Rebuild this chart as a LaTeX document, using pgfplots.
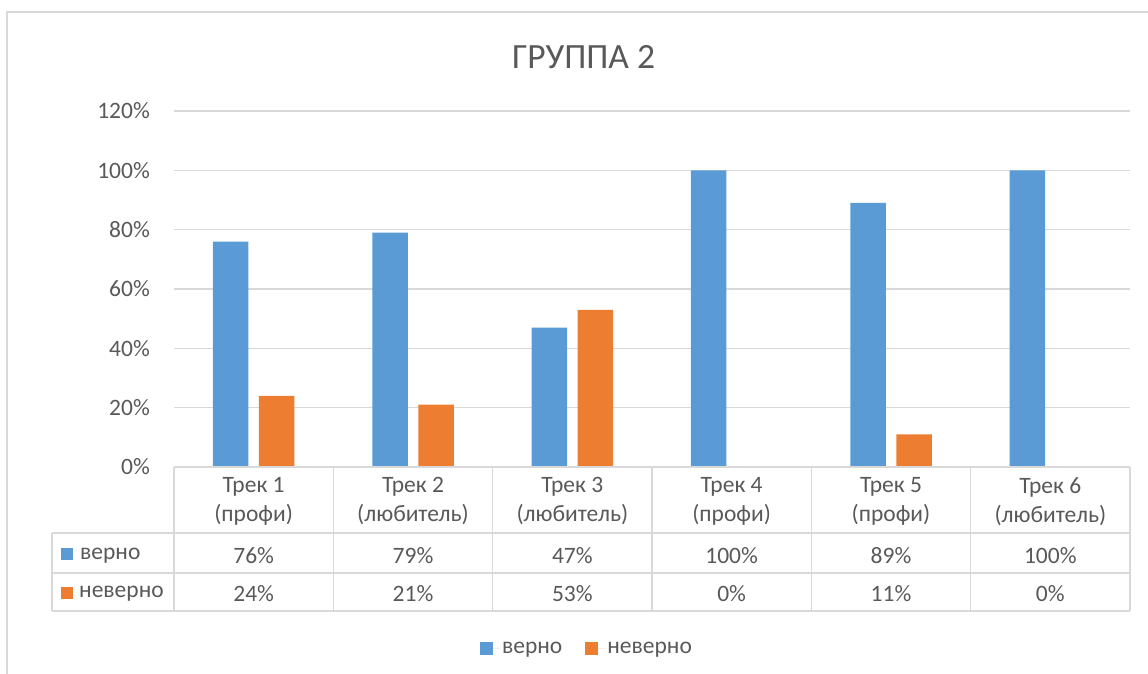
\documentclass[border=0pt]{standalone}
\usepackage{fontspec}
\setmainfont{Carlito}
\usepackage{pgfplots}
\usepackage{pgfplotstable}
\pgfplotsset{compat=1.18}
\definecolor{blu}{HTML}{5B9BD5}
\definecolor{ora}{HTML}{ED7D31}
\definecolor{txt}{HTML}{595959}
\definecolor{grd}{HTML}{D9D9D9}
\newcommand\tf{\fontsize{23.5}{29}\selectfont}
\pgfplotstableread{
x verno neverno
0.5 76 24
1.5 79 21
2.5 47 53
3.5 100 0
4.5 89 11
5.5 100 0
}\data
\begin{document}
\begin{tikzpicture}
\path[use as bounding box] (0pt,0pt) rectangle (1148pt,674pt);
% outer chart border (left and top visible)
\draw[grd, line width=1.5pt] (7pt,0pt) -- (7pt,662pt) -- (1148pt,662pt);
% title
\node[text=txt, font=\fontsize{35.5}{42}\selectfont] at (583.5pt,617pt) {ГРУППА 2};
\begin{axis}[
  at={(174pt,207pt)}, anchor=south west,
  scale only axis, width=956pt, height=356pt,
  xmin=0, xmax=6, ymin=0, ymax=120,
  clip=false,
  axis line style={draw=none},
  major tick length=0pt,
  ytick={0,20,...,120},
  ymajorgrids, major grid style={draw=grd, line width=1.3pt},
  yticklabel={\pgfmathprintnumber{\tick}\%},
  /pgf/number format/assume math mode=true,
  yticklabel style={font=\tf, text=txt, anchor=east, inner sep=0pt, xshift=-24pt},
  xtick={0.5,1.5,...,5.5},
  xticklabels={{Трек 1\\(профи)},{Трек 2\\(любитель)},{Трек 3\\(любитель)},{Трек 4\\(профи)},{Трек 5\\(профи)},{Трек 6\\(любитель)}},
  xticklabel style={font=\tf, text=txt, align=center, anchor=center, inner sep=0pt, yshift=-34.5pt},
  legend style={at={(0.432,-0.5106)}, anchor=center, draw=none, fill=none, inner sep=0pt,
    font=\tf, text=txt, legend columns=2,
    /tikz/every even column/.append style={column sep=21pt}},
  legend cell align=left,
  legend image code/.code={\fill[#1] (0pt,-6pt) rectangle (13pt,7pt); \path (0pt,0pt) -- (20pt,0pt);},
]
\addplot[ybar, bar width=35.5pt, bar shift=-23pt, fill=blu, draw=none] table[x=x, y=verno] {\data};
\addplot[ybar, bar width=35.5pt, bar shift=23pt, fill=ora, draw=none] table[x=x, y=neverno] {\data};
\legend{верно, неверно}
% data table values
\addplot[forget plot, draw=none, mark=none, point meta=explicit,
  nodes near coords={\pgfmathprintnumber{\pgfplotspointmeta}\%},
  nodes near coords style={font=\tf, text=txt, anchor=center, inner sep=0pt}]
  table[x=x, y expr=-29.7, meta=verno] {\data};
\addplot[forget plot, draw=none, mark=none, point meta=explicit,
  nodes near coords={\pgfmathprintnumber{\pgfplotspointmeta}\%},
  nodes near coords style={font=\tf, text=txt, anchor=center, inner sep=0pt}]
  table[x=x, y expr=-42.6, meta=neverno] {\data};
\end{axis}
% data table grid
\begin{scope}[grd, line width=1.5pt]
\draw (174pt,207pt) -- (1130pt,207pt);
\draw (52pt,141pt) -- (1130pt,141pt);
\draw (52pt,101pt) -- (1130pt,101pt);
\draw (52pt,63pt) -- (1130pt,63pt);
\draw (52pt,141pt) -- (52pt,63pt);
\foreach \k in {0,...,6} {
  \draw ({174pt+\k*159.333pt},207pt) -- ({174pt+\k*159.333pt},63pt);
}
\end{scope}
% row headers
\fill[blu] (61pt,114pt) rectangle (73pt,126pt);
\node[anchor=base west, inner sep=0pt, font=\tf, text=txt] at (80pt,114pt) {верно};
\fill[ora] (61pt,75pt) rectangle (73pt,87pt);
\node[anchor=base west, inner sep=0pt, font=\tf, text=txt] at (79pt,76pt) {неверно};
\end{tikzpicture}
\end{document}
